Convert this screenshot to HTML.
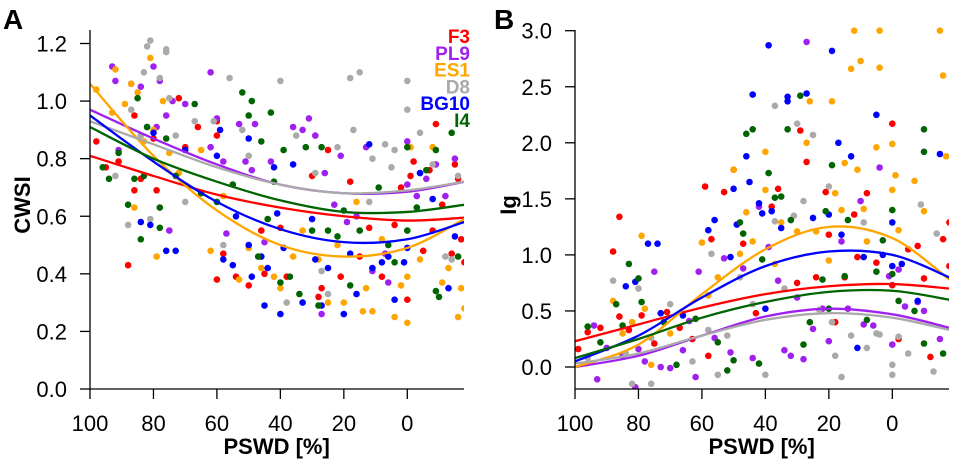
<!DOCTYPE html>
<html><head><meta charset="utf-8"><style>
body{margin:0;background:#fff;}
svg{display:block;font-family:"Liberation Sans",Arial,sans-serif;}
</style></head><body>
<svg id="chart" width="957" height="468" viewBox="0 0 957 468"></svg>
<script>
const seriesNames = ["F3","PL9","ES1","D8","BG10","I4"];
const seriesColors = ["#ff0000","#a020f0","#ffa500","#aaaaaa","#0000ff","#006400"];
const curveX = [100,80,60,40,20,0,-18];
const xTicks = [100,80,60,40,20,0];
const yTicksA = [0.0,0.2,0.4,0.6,0.8,1.0,1.2];
const yTicksB = [0.0,0.5,1.0,1.5,2.0,2.5,3.0];
// Panel A fitted curves (CWSI)
const curveA_F3 = [0.81,0.74,0.675,0.63,0.60,0.585,0.595];
const curveA_PL9 = [0.97,0.87,0.78,0.71,0.68,0.685,0.72];
const curveA_ES1 = [1.06,0.81,0.62,0.50,0.46,0.49,0.59];
const curveA_D8 = [0.93,0.85,0.77,0.71,0.68,0.69,0.72];
const curveA_BG10 = [0.95,0.79,0.65,0.555,0.51,0.52,0.58];
const curveA_I4 = [0.91,0.80,0.72,0.655,0.615,0.615,0.64];
// Panel B fitted curves (Ig)
const curveB_F3 = [0.23,0.38,0.53,0.65,0.72,0.74,0.70];
const curveB_PL9 = [0.0,0.10,0.28,0.45,0.52,0.47,0.35];
const curveB_ES1 = [0.0,0.20,0.65,1.05,1.25,1.15,0.78];
const curveB_D8 = [0.03,0.12,0.28,0.42,0.48,0.44,0.33];
const curveB_BG10 = [0.05,0.28,0.62,0.90,1.03,1.0,0.80];
const curveB_I4 = [0.08,0.25,0.44,0.58,0.67,0.68,0.60];
// Panel A points [PSWD, CWSI]
const ptsA_F3 = [[98,0.86],[95,0.77],[91,0.79],[88,0.43],[86,0.95],[86,0.69],[84,0.73],[80,0.87],[79,0.69],[72,1.01],[70,0.84],[66,0.91],[60,0.93],[60,0.88],[58,0.47],[60,0.38],[54,0.39],[50,0.36],[45,0.40],[46,0.55],[40,0.56],[38,0.39],[30,0.74],[28,0.32],[27,0.35],[25,0.83],[21,0.39],[18,0.72],[15,0.46],[12,0.56],[8,0.39],[4,0.57],[2,0.70],[0,0.31],[-1,0.74],[-2,0.79],[-5,0.48],[-7,0.76],[-8,0.55],[-9,0.92],[-11,0.64],[-14,0.47],[-15,0.78],[-16,0.73],[-17,0.52],[-18,0.44]];
const ptsA_PL9 = [[93,1.12],[92,1.07],[91,0.83],[87,1.06],[84,1.05],[82,0.91],[80,1.12],[79,0.91],[78,1.07],[76,0.95],[75,0.55],[74,1.00],[70,0.99],[62,1.10],[62,0.84],[60,0.94],[58,0.79],[57,0.54],[53,0.92],[51,0.79],[49,0.76],[48,0.92],[45,0.51],[43,0.79],[36,0.91],[33,0.90],[31,0.94],[29,0.88],[27,0.26],[26,0.75],[23,0.64],[21,0.81],[19,0.58],[16,0.60],[13,0.84],[11,0.41],[7,0.47],[6,0.37],[0,0.86],[0,0.71],[-3,0.67],[-6,0.73],[-9,0.78],[-12,0.67],[-15,0.80]];
const ptsA_ES1 = [[98,1.04],[93,0.96],[92,1.11],[89,0.99],[87,1.06],[86,0.63],[85,1.03],[83,0.86],[81,1.15],[80,0.90],[79,0.46],[77,1.00],[75,0.82],[72,0.75],[65,0.83],[62,0.48],[58,0.67],[53,0.38],[50,0.49],[46,0.42],[42,0.39],[40,0.35],[36,0.46],[33,0.55],[28,0.45],[25,0.30],[22,0.50],[20,0.30],[16,0.65],[14,0.27],[13,0.35],[11,0.27],[8,0.52],[4,0.25],[2,0.36],[0,0.23],[0,0.39],[-1,0.84],[-4,0.45],[-8,0.84],[-11,0.37],[-13,0.42],[-16,0.25],[-17,0.35],[-18,0.28]];
const ptsA_D8 = [[92,0.74],[88,0.57],[87,0.97],[84,0.88],[83,1.10],[82,1.19],[81,1.21],[81,0.59],[78,1.08],[76,1.18],[76,1.17],[75,1.01],[73,0.88],[70,0.65],[67,0.93],[61,0.93],[58,0.50],[56,1.08],[52,0.90],[50,0.81],[40,1.07],[38,0.30],[35,0.88],[29,0.75],[27,0.41],[25,0.33],[22,0.84],[18,1.08],[17,0.90],[15,1.10],[12,0.65],[11,0.80],[7,0.85],[5,0.77],[4,0.83],[0,1.07],[0,0.97],[-4,0.89],[-8,0.78],[-12,0.46],[-14,0.45],[-16,0.74]];
const ptsA_BG10 = [[84,0.58],[81,0.57],[80,0.89],[76,0.48],[73,0.48],[70,0.83],[60,0.81],[59,0.90],[58,0.45],[55,0.43],[54,0.60],[50,0.50],[50,0.87],[49,0.39],[46,0.46],[45,0.29],[44,0.42],[42,0.77],[41,0.61],[40,0.26],[39,0.49],[36,0.78],[33,0.30],[30,0.59],[29,0.45],[27,0.29],[25,0.42],[20,0.26],[18,0.47],[16,0.33],[12,0.85],[11,0.42],[8,0.44],[6,0.46],[4,0.31],[1,0.44],[0,0.49],[-4,0.75],[-8,0.66],[-13,0.35],[-15,0.53]];
const ptsA_I4 = [[96,0.77],[94,0.73],[91,0.82],[88,0.64],[86,0.73],[85,1.01],[84,0.52],[83,0.74],[82,0.91],[78,0.56],[78,0.63],[76,0.87],[73,0.74],[67,0.99],[65,0.68],[60,0.65],[55,0.71],[52,1.03],[50,0.95],[49,1.00],[47,0.46],[46,0.86],[44,0.59],[43,0.96],[42,0.72],[40,0.37],[39,0.83],[37,0.39],[34,0.33],[32,0.84],[30,0.55],[28,0.29],[27,0.84],[25,0.55],[22,0.53],[20,0.62],[18,0.36],[15,0.55],[9,0.70],[6,0.50],[4,0.44],[0,0.84],[0,0.55],[-3,0.63],[-6,0.76],[-9,0.83],[-9,0.34],[-10,0.32],[-14,0.89],[-16,0.46]];
// Panel B points [PSWD, Ig]
const ptsB_F3 = [[99,0.16],[96,0.31],[92,0.35],[88,1.03],[86,1.34],[86,0.45],[83,0.33],[79,0.46],[75,0.21],[71,0.49],[67,0.35],[63,0.25],[59,1.61],[58,0.10],[57,1.14],[53,1.56],[50,1.76],[47,1.10],[43,0.48],[38,1.43],[36,1.59],[30,0.75],[29,2.11],[27,1.83],[24,0.80],[21,1.56],[20,1.18],[18,0.40],[15,0.80],[12,1.36],[11,0.98],[8,1.55],[5,0.93],[0,2.17],[0,0.73],[-2,0.25],[-5,1.05],[-8,1.08],[-10,0.79],[-12,0.09],[-16,1.14],[-18,0.90],[-18,1.29]];
const ptsB_PL9 = [[94,0.37],[93,-0.11],[90,0.17],[85,0.10],[81,-0.18],[80,0.16],[78,0.05],[75,0.85],[73,0.00],[70,-0.01],[66,0.15],[64,0.41],[62,-0.09],[61,0.85],[56,0.26],[53,0.97],[51,0.13],[47,0.88],[44,0.08],[42,1.43],[39,1.07],[36,0.77],[34,0.15],[32,0.10],[30,0.62],[28,0.07],[27,2.90],[25,0.34],[22,0.52],[20,0.23],[16,1.12],[14,0.52],[10,1.48],[9,0.38],[6,0.37],[4,1.78],[1,0.81],[0,0.20],[-2,0.87],[-4,0.54],[-8,0.58],[-10,0.50],[-15,0.25]];
const ptsB_ES1 = [[88,0.59],[85,0.30],[82,0.40],[79,1.17],[78,0.52],[76,0.02],[70,0.30],[60,1.11],[58,0.64],[55,0.80],[50,1.76],[48,1.01],[46,1.38],[44,1.12],[40,1.92],[40,1.58],[37,0.92],[35,1.29],[30,1.21],[27,2.00],[26,2.37],[24,1.21],[20,0.95],[19,2.37],[18,1.55],[16,1.40],[15,1.82],[13,2.66],[12,3.0],[11,1.76],[10,2.73],[9,1.41],[8,1.12],[5,1.96],[4,2.67],[4,3.0],[0,1.58],[0,1.99],[-1,1.71],[-2,1.22],[-7,1.66],[-10,1.39],[-15,3.0],[-16,2.60],[-17,1.88]];
const ptsB_D8 = [[96,0.08],[88,0.77],[84,0.12],[82,-0.15],[80,0.70],[76,0.26],[76,-0.15],[70,0.56],[63,0.05],[58,0.33],[57,1.01],[55,-0.07],[52,0.28],[48,0.80],[44,0.56],[40,-0.07],[37,2.33],[37,1.30],[34,0.70],[31,1.35],[30,2.17],[28,1.48],[25,2.07],[23,0.51],[20,1.61],[19,0.40],[18,0.10],[16,-0.09],[13,0.28],[9,1.29],[8,0.17],[5,0.30],[4,0.29],[0,0.02],[0,-0.07],[-2,0.27],[-5,0.12],[-9,1.45],[-13,-0.04],[-14,1.19]];
const ptsB_BG10 = [[84,0.72],[81,0.76],[77,1.10],[74,1.10],[73,0.48],[66,0.46],[58,1.22],[56,1.31],[51,0.98],[50,1.59],[49,1.27],[46,1.88],[45,1.65],[44,2.43],[42,1.46],[41,1.37],[40,0.52],[39,2.87],[38,1.39],[35,1.24],[33,2.41],[33,2.37],[27,2.44],[25,1.33],[20,1.36],[19,2.82],[17,2.00],[16,1.18],[13,1.88],[11,0.17],[9,0.98],[5,2.25],[3,1.00],[0,0.90],[0,1.29],[-3,0.92],[-8,0.59],[-15,1.90]];
const ptsB_I4 = [[96,0.36],[92,0.22],[87,0.56],[85,0.37],[83,0.92],[80,0.79],[79,0.58],[72,0.40],[68,0.02],[62,0.43],[55,0.22],[52,-0.03],[50,0.06],[48,1.29],[47,1.19],[46,2.08],[44,2.12],[42,0.03],[41,0.96],[39,1.73],[37,1.51],[35,1.52],[33,2.12],[32,1.31],[29,2.42],[28,0.20],[26,0.40],[22,0.78],[21,1.39],[20,0.52],[19,1.80],[15,0.81],[14,1.31],[8,0.42],[5,0.85],[3,1.13],[0,1.40],[0,0.83],[-2,0.59],[-7,0.50],[-10,1.92],[-10,2.12],[-10,0.21],[-16,0.12]];

const NS="http://www.w3.org/2000/svg";
const svg=document.getElementById('chart');
function mk(tag,attrs,parent){const e=document.createElementNS(NS,tag);for(const k in attrs)e.setAttribute(k,attrs[k]);(parent||svg).appendChild(e);return e;}
function txt(s,attrs,parent){const e=mk('text',attrs,parent);e.textContent=s;return e;}

const panels=[
 {id:'a',letter:'A',x0:90,x1:464,yTop:30,yBot:389,xAt100:90,xAt0:407.3,yv0:389,yv1:43.5,v1:1.2,yticks:yTicksA,ylabel:'CWSI',ylabX:22,
  curves:[curveA_F3,curveA_PL9,curveA_ES1,curveA_D8,curveA_BG10,curveA_I4],pts:[ptsA_F3,ptsA_PL9,ptsA_ES1,ptsA_D8,ptsA_BG10,ptsA_I4],dec:1},
 {id:'b',letter:'B',x0:575,x1:949,yTop:30,yBot:389,xAt100:575,xAt0:892.3,yv0:367,yv1:30.7,v1:3.0,yticks:yTicksB,ylabel:'Ig',ylabX:508,
  curves:[curveB_F3,curveB_PL9,curveB_ES1,curveB_D8,curveB_BG10,curveB_I4],pts:[ptsB_F3,ptsB_PL9,ptsB_ES1,ptsB_D8,ptsB_BG10,ptsB_I4],dec:1}
];

panels.forEach(p=>{
 const xs=v=>p.xAt0+(p.xAt100-p.xAt0)*v/100;
 const ys=v=>p.yv0+(p.yv1-p.yv0)*v/p.v1;
 const g=mk('g',{});
 
 
 const clipId='clip-'+p.id;
 const cp=mk('clipPath',{id:clipId},g);
 mk('rect',{x:p.x0,y:p.yTop-4,width:p.x1-p.x0,height:p.yBot-p.yTop+4},cp);
 const plot=mk('g',{'clip-path':'url(#'+clipId+')'},g);
 
 
 p.pts.forEach((arr,si)=>{
  const sg=mk('g',{fill:seriesColors[si]},plot);
  
  
  arr.forEach(d=>{const c=mk('circle',{cx:xs(d[0]).toFixed(1),cy:ys(d[1]).toFixed(1),r:3.3},sg);
   
   });
 });
 p.curves.forEach((vals,si)=>{
  const P=curveX.map((x,i)=>[xs(x),ys(vals[i])]);
  let d='M'+P[0][0]+','+P[0][1];
  for(let i=0;i<P.length-1;i++){
   const p0=P[Math.max(0,i-1)],p1=P[i],p2=P[i+1],p3=P[Math.min(P.length-1,i+2)];
   const c1=[p1[0]+(p2[0]-p0[0])/6,p1[1]+(p2[1]-p0[1])/6];
   const c2=[p2[0]-(p3[0]-p1[0])/6,p2[1]-(p3[1]-p1[1])/6];
   d+=' C'+c1.join(',')+' '+c2.join(',')+' '+p2.join(',');
  }
  const path=mk('path',{d:d,fill:'none',stroke:seriesColors[si],'stroke-width':2.3},plot);
  
  
 });
 const yax=mk('line',{x1:p.x0,y1:p.yTop,x2:p.x0,y2:p.yBot,stroke:'#000','stroke-width':1.3},g);
 
 
 const xax=mk('line',{x1:p.x0,y1:p.yBot,x2:p.x1,y2:p.yBot,stroke:'#000','stroke-width':1.3},g);
 
 
 p.yticks.forEach(v=>{
  const y=ys(v);
  mk('line',{x1:p.x0-10,y1:y,x2:p.x0,y2:y,stroke:'#000','stroke-width':1.3},g);
  const t=txt(v.toFixed(p.dec),{x:p.x0-23,y:y+8,'font-size':22,'text-anchor':'end',fill:'#000'},g);
  
  
 });
 xTicks.forEach(v=>{
  const x=xs(v);
  mk('line',{x1:x,y1:p.yBot,x2:x,y2:p.yBot+10,stroke:'#000','stroke-width':1.3},g);
  const t=txt(String(v),{x:x,y:431,'font-size':22,'text-anchor':'middle',fill:'#000'},g);
  
  
 });
 const xt=txt('PSWD [%]',{x:(p.xAt100+p.xAt0)/2+28,y:454,'font-size':22,'font-weight':'bold','text-anchor':'middle'},g);
 
 
 const yt=txt(p.ylabel,{x:0,y:0,'font-size':22,'font-weight':'bold','text-anchor':'middle',transform:'translate('+(p.ylabX+8)+',205) rotate(-90)'},g);
 
 
 const pl=txt(p.letter,{x:p.id==='a'?3:494,y:29,'font-size':28,'font-weight':'bold'},g);
 
 
});

const lg=mk('g',{'font-size':19,'font-weight':'bold','text-anchor':'end'});


seriesNames.forEach((n,i)=>{
 const t=txt(n,{x:470,y:43+i*16.8,fill:seriesColors[i]},lg);
 
 
});
</script>
</body></html>
